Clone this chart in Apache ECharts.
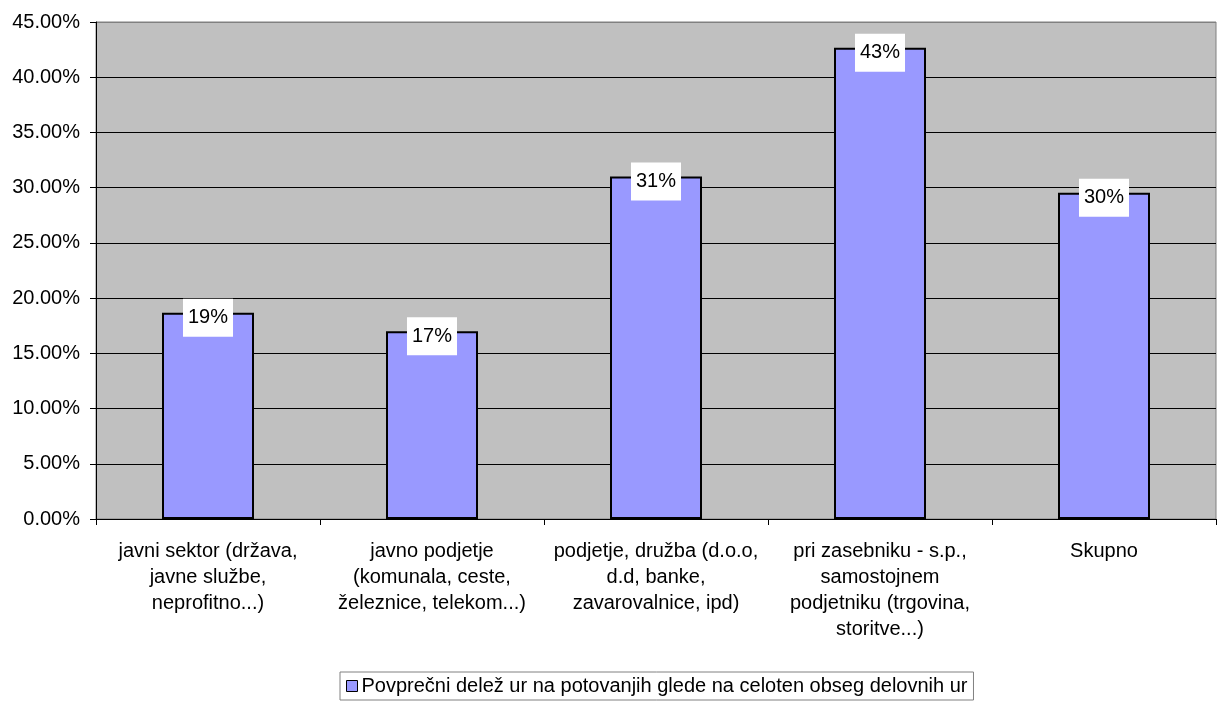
<!DOCTYPE html>
<html>
<head>
<meta charset="utf-8">
<script src="https://cdn.jsdelivr.net/npm/echarts@6/dist/echarts.min.js"></script>
<style>html,body{margin:0;padding:0;background:#fff;}#c{width:1218px;height:704px;}</style>
</head>
<body>
<div id="c"></div>
<script>
const categories = [
  'javni sektor (država,\njavne službe,\nneprofitno...)',
  'javno podjetje\n(komunala, ceste,\nželeznice, telekom...)',
  'podjetje, družba (d.o.o,\nd.d, banke,\nzavarovalnice, ipd)',
  'pri zasebniku - s.p.,\nsamostojnem\npodjetniku (trgovina,\nstoritve...)',
  'Skupno'
];
const seriesName = 'Povprečni delež ur na potovanjih glede na celoten obseg delovnih ur';
const values = [18.68, 17.0, 31.0, 42.67, 29.55];
const yMin = 0, yMax = 45, yStep = 5;

const font = '"Liberation Sans", Arial, sans-serif';
const gridColors = ['#000','#000','#000','#000','#000','#000','#000','#000','#000','#808080'];
const chart = echarts.init(document.getElementById('c'), null, {renderer: 'canvas'});
chart.setOption({
  animation: false,
  backgroundColor: '#ffffff',
  textStyle: {fontFamily: font},
  grid: {left: 96, right: 2, top: 22, bottom: 185, show: true, backgroundColor: '#C0C0C0', borderColor: '#808080', borderWidth: 1},
  legend: {
    left: 340, top: 672,
    padding: [4, 6],
    borderColor: '#808080', borderWidth: 1,
    itemWidth: 11, itemHeight: 11, itemGap: 5,
    icon: 'rect',
    itemStyle: {borderColor: '#000', borderWidth: 1},
    textStyle: {fontSize: 20, color: '#000', fontFamily: font, padding: [0,0,0,-1]},
    data: [seriesName]
  },
  xAxis: {
    type: 'category',
    data: categories,
    boundaryGap: true,
    axisLine: {lineStyle: {color: '#000', width: 1}},
    axisTick: {show: true, length: 6, alignWithLabel: false, lineStyle: {color: '#000'}},
    axisLabel: {interval: 0, fontSize: 20, color: '#000', fontFamily: font, lineHeight: 26, margin: 19}
  },
  yAxis: {
    type: 'value',
    min: yMin, max: yMax, interval: yStep,
    axisLine: {show: true, lineStyle: {color: '#000', width: 1}},
    axisTick: {show: true, length: 6, lineStyle: {color: '#000'}},
    axisLabel: {fontSize: 20, color: '#000', fontFamily: font, margin: 16, formatter: v => v.toFixed(2) + '%'},
    splitLine: {show: true, lineStyle: {color: gridColors, width: 1}}
  },
  series: [{
    name: seriesName,
    type: 'bar',
    data: values,
    barWidth: 92,
    itemStyle: {color: '#9999FF', borderColor: '#000', borderWidth: 2},
    label: {
      show: true,
      position: ['50%', 5],
      align: 'center',
      verticalAlign: 'middle',
      formatter: p => Math.round(p.value) + '%',
      fontSize: 20, color: '#000', fontFamily: font,
      backgroundColor: '#fff',
      lineHeight: 20,
      padding: [9, 5, 9, 5]
    }
  }]
});
</script>
</body>
</html>
